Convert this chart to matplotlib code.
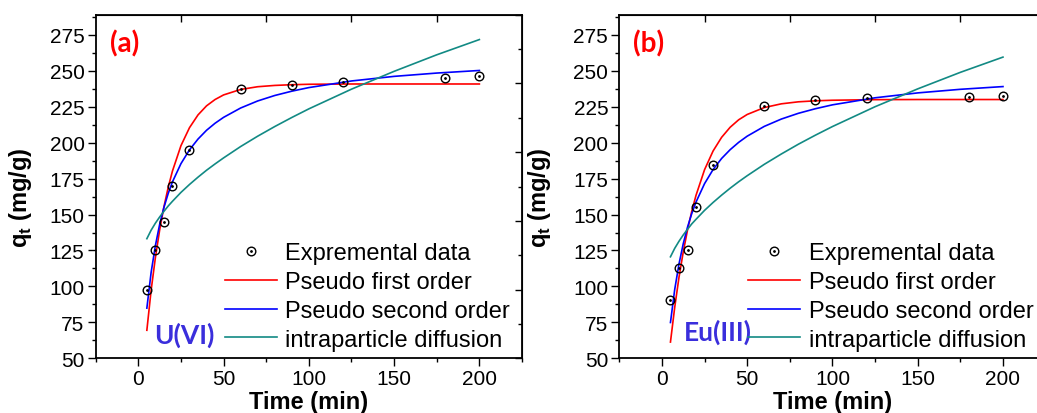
import matplotlib
matplotlib.use("Agg")
import matplotlib.pyplot as plt
from matplotlib.ticker import MultipleLocator, FixedLocator, NullFormatter

plt.rcParams['font.family'] = ['Liberation Sans', 'DejaVu Sans']
plt.rcParams['mathtext.fontset'] = 'custom'
plt.rcParams['mathtext.rm'] = 'Liberation Sans:bold'

# ---- data ----
time_exp = [5, 10, 15, 20, 30, 60, 90, 120, 180, 200]
q_exp_u = [97.5, 125, 145, 170, 195, 237.5, 240, 242.5, 245, 246.5]
q_exp_eu = [90.5, 112.5, 125, 155, 184.5, 225.5, 230, 231, 232, 232.5]

time_fit = [5, 7.5, 10, 12.5, 15, 17.5, 20, 25, 30, 35, 40, 45, 50,
            60, 70, 80, 90, 100, 125, 150, 175, 200]

pfo_u = [69.5, 97.3, 120.0, 139.2, 155.3, 168.8, 180.2, 197.9, 210.4, 219.3,
         225.6, 230.0, 233.2, 237.0, 238.9, 239.8, 240.3, 240.6, 240.8, 240.8,
         240.8, 240.8]
pso_u = [84.9, 109.7, 128.4, 143.1, 154.9, 164.6, 172.7, 185.4, 195.0, 202.5,
         208.6, 213.5, 217.6, 224.1, 229.0, 232.8, 235.8, 238.3, 242.9, 246.1,
         248.4, 250.2]
ipd_u = [133.2, 139.1, 144.0, 148.3, 152.2, 155.9, 159.2, 165.4, 170.9, 176.0,
         180.8, 185.2, 189.4, 197.3, 204.5, 211.2, 217.5, 223.5, 237.2, 249.6,
         261.1, 271.7]

pfo_eu = [61.3, 85.5, 106.3, 124.0, 139.2, 152.3, 163.4, 181.2, 194.2, 203.7,
          210.7, 215.9, 219.6, 224.4, 227.0, 228.4, 229.1, 229.5, 229.9, 230.0,
          230.0, 230.0]
pso_eu = [74.9, 97.9, 115.6, 129.7, 141.2, 150.7, 158.7, 171.5, 181.3, 189.0,
          195.1, 200.2, 204.5, 211.3, 216.4, 220.4, 223.6, 226.3, 231.2, 234.6,
          237.1, 239.0]
ipd_eu = [120.6, 126.5, 131.4, 135.8, 139.7, 143.5, 146.7, 152.9, 158.4, 163.5,
          168.3, 172.8, 177.0, 184.9, 192.1, 198.9, 205.2, 211.2, 225.0, 237.4,
          248.9, 259.5]

legend_labels = ["Expremental data", "Pseudo first order",
                 "Pseudo second order", "intraparticle diffusion"]
panel_tags = ["(a)", "(b)"]
ion_names = ["U(VI)", "Eu(III)"]

# ---- figure ----
W, H = 1037, 414
fig = plt.figure(figsize=(W / 100, H / 100), dpi=100)

panels = [
    dict(rect=[95.7 / W, 0.1321, 426.3 / W, 0.830], exp=q_exp_u,
         pfo=pfo_u, pso=pso_u, ipd=ipd_u, tag=panel_tags[0],
         ion=ion_names[0], ion_xy=(0.137, 0.108), ylab_x=-0.145),
    dict(rect=[619.3 / W, 0.1321, 426.3 / W, 0.830], exp=q_exp_eu,
         pfo=pfo_eu, pso=pso_eu, ipd=ipd_eu, tag=panel_tags[1],
         ion=ion_names[1], ion_xy=(0.152, 0.116), ylab_x=-0.155),
]

RED, BLUE, TEAL = '#FF0000', '#0000FF', '#128A84'
ION_COLOR = '#3A2EDC'

for p in panels:
    ax = fig.add_axes(p['rect'])
    circ, = ax.plot(time_exp, p['exp'], linestyle='none', marker='o',
                    markersize=6.2, markerfacecolor='none',
                    markeredgecolor='black', markeredgewidth=1.0, zorder=5)
    dot, = ax.plot(time_exp, p['exp'], linestyle='none', marker='o',
                   markersize=1.0, color='black', zorder=6)
    l1, = ax.plot(time_fit, p['pfo'], color=RED, lw=1.2)
    l2, = ax.plot(time_fit, p['pso'], color=BLUE, lw=1.2)
    l3, = ax.plot(time_fit, p['ipd'], color=TEAL, lw=1.2)

    ax.set_xlim(-25, 225)
    ax.set_ylim(50, 289)

    ax.xaxis.set_major_locator(FixedLocator([0, 50, 100, 150, 200]))
    ax.xaxis.set_minor_locator(MultipleLocator(25))
    ax.yaxis.set_major_locator(MultipleLocator(25))
    ax.yaxis.set_minor_locator(MultipleLocator(12.5))
    ax.tick_params(which='both', direction='out', top=False, right=False,
                   width=1.0, labelsize=15, pad=2)
    ax.tick_params(which='major', length=6)
    ax.tick_params(which='minor', length=3)
    for s in ax.spines.values():
        s.set_linewidth(1.3)

    # opposite-side ticks, pointing inward
    top = ax.secondary_xaxis('top')
    top.xaxis.set_major_locator(FixedLocator([25, 75, 125, 175]))
    top.xaxis.set_major_formatter(NullFormatter())
    top.tick_params(direction='in', length=5, width=1.0)
    right = ax.secondary_yaxis(
        'right', functions=(lambda y: (y - 50) * 250 / 239,
                            lambda v: 50 + v * 239 / 250))
    right.yaxis.set_major_locator(MultipleLocator(50))
    right.yaxis.set_minor_locator(MultipleLocator(25))
    right.yaxis.set_major_formatter(NullFormatter())
    right.tick_params(which='major', direction='in', length=5, width=1.0)
    right.tick_params(which='minor', direction='in', length=3, width=1.0)

    ax.set_xlabel('Time (min)', fontsize=17, fontweight='bold')
    ax.xaxis.set_label_coords(0.5, -0.092)
    ax.set_ylabel(r'$\mathrm{q}_\mathrm{t}$ (mg/g)', fontsize=17,
                  fontweight='bold')
    ax.yaxis.set_label_coords(p['ylab_x'], 0.47)

    ax.text(0.033, 0.958, p['tag'], transform=ax.transAxes, color=RED,
            fontsize=20, fontweight='bold', family='Lato', va='top', ha='left')
    ax.text(p['ion_xy'][0], p['ion_xy'][1], p['ion'], transform=ax.transAxes,
            color=ION_COLOR, fontsize=19, fontweight='bold', family='Lato',
            va='top', ha='left')

    ax.legend([(circ, dot), l1, l2, l3], legend_labels, loc='upper left',
              bbox_to_anchor=(0.303, 0.338), borderaxespad=0, borderpad=0,
              frameon=False, fontsize=17, handlelength=2.2,
              handletextpad=0.35, labelspacing=0.29)

fig.savefig('out.png', dpi=100)
